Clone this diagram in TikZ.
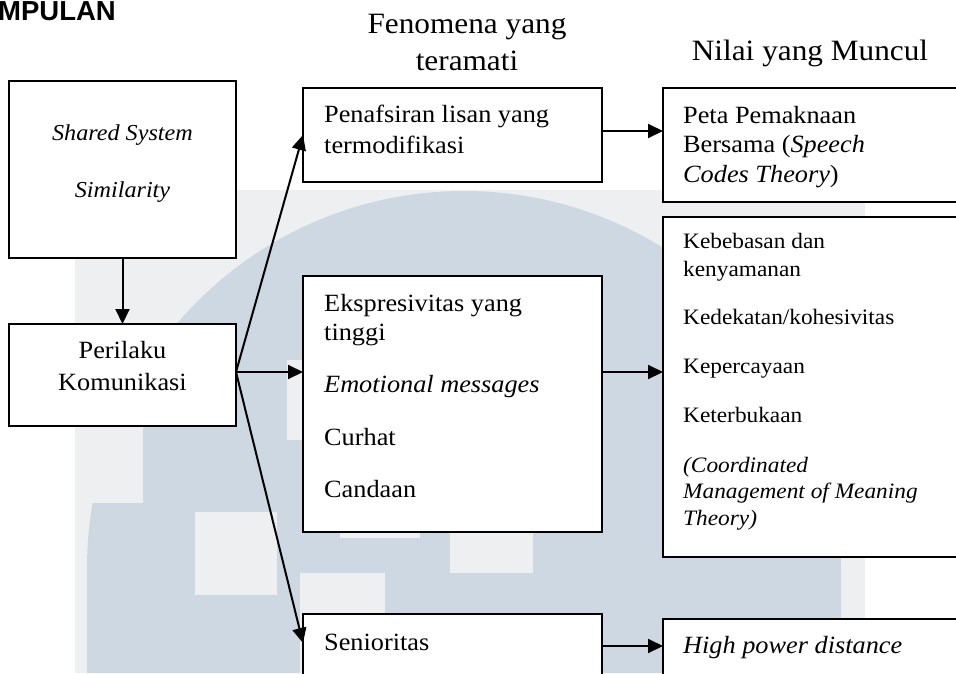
\documentclass[tikz,border=0pt]{standalone}
\usepackage{fontspec}
\setmainfont{Liberation Serif}[FakeStretch=1.06]
\setsansfont{Liberation Sans}
\usetikzlibrary{arrows.meta}
\definecolor{wmbiru}{RGB}{205,216,226}
\definecolor{wmabu}{RGB}{238,239,241}

\begin{document}
\begin{tikzpicture}[x=1pt, y=-1pt,
    kotak/.style={draw, fill=white, line width=2pt, inner sep=0pt, outer sep=0pt, anchor=north west},
    panah/.style={-{Triangle[length=15pt,width=14pt]}, line width=2pt},
    judul/.style={inner sep=0pt, font=\fontsize{29.5}{36.5}\selectfont},
    isi/.style={anchor=base west, inner sep=0pt, align=left, font=\fontsize{24.8}{30.5}\selectfont},
    kecil/.style={anchor=base west, inner sep=0pt, align=left, font=\fontsize{22}{28}\selectfont}]
  \useasboundingbox (0,0) rectangle (956,673);
  \clip (0,0) rectangle (956,673);

  % watermark
  \fill[wmabu] (75,190) rectangle (865,673);
  \fill[wmbiru] (87,673) -- (87,568) arc[start angle=180, end angle=360, radius=377] -- (841,673) -- cycle;
  \fill[wmabu] (75,380) rectangle (143,503);
  \fill[wmabu] (195,512) rectangle (277,595);
  \fill[wmabu] (300,573) rectangle (385,673);
  \fill[wmabu] (287,360) rectangle (330,440);
  \fill[wmabu] (340,520) rectangle (420,538);
  \fill[wmabu] (450,533) rectangle (533,573);

  \node[anchor=base west, inner sep=0pt, font=\sffamily\bfseries\fontsize{27.5}{28}\selectfont] (bab) at (-2,20) {MPULAN};

  % judul kolom
  \node[judul, anchor=base] (fenomena) at (467,33) {Fenomena yang};
  \node[judul, anchor=base] (teramati) at (467,70) {teramati};
  \node[judul, anchor=base] (nilai) at (810,60) {Nilai yang Muncul};

  % kotak
  \node[kotak, minimum width=227pt, minimum height=177pt] (ss) at (9,81) {};
  \node[kotak, minimum width=227pt, minimum height=102pt] (pk) at (9,324) {};
  \node[kotak, minimum width=299pt, minimum height=94pt] (pn) at (303,88) {};
  \node[kotak, minimum width=299pt, minimum height=256pt] (ek) at (303,276) {};
  \node[kotak, minimum width=299pt, minimum height=100pt] (sn) at (303,614) {};
  \node[kotak, minimum width=340pt, minimum height=114pt] (pt) at (663,88) {};
  \node[kotak, minimum width=340pt, minimum height=340pt] (nl) at (663,217) {};
  \node[kotak, minimum width=340pt, minimum height=100pt] (hp) at (663,619) {};

  % teks (baris terakhir di koordinat)
  \node[isi, anchor=base, font=\itshape\fontsize{22.8}{27}\selectfont] (ss1) at (122.5,140) {Shared System};
  \node[isi, anchor=base, font=\itshape\fontsize{22.8}{27}\selectfont] (ss2) at (122.5,197) {Similarity};
  \node[isi, anchor=base, align=center, font=\fontsize{24.8}{32}\selectfont] (pk1) at (122.5,390) {Perilaku\\Komunikasi};
  \node[isi, font=\fontsize{24.8}{31}\selectfont] (pn1) at (324,153) {Penafsiran lisan yang\\termodifikasi};
  \node[isi, font=\fontsize{24.8}{29}\selectfont] (ek1) at (324,340) {Ekspresivitas yang\\tinggi};
  \node[isi] (ek2) at (324,392) {\textit{Emotional messages}};
  \node[isi] (ek3) at (324,445) {Curhat};
  \node[isi] (ek4) at (324,497) {Candaan};
  \node[isi] (sn1) at (324,650) {Senioritas};
  \node[isi, font=\fontsize{24.8}{29.5}\selectfont] (pt1) at (683,182) {Peta Pemaknaan\\Bersama (\textit{Speech}\\\textit{Codes Theory})};
  \node[kecil] (nl1) at (683,276) {Kebebasan dan\\kenyamanan};
  \node[kecil] (nl2) at (683,324) {Kedekatan/kohesivitas};
  \node[kecil] (nl3) at (683,373) {Kepercayaan};
  \node[kecil] (nl4) at (683,422) {Keterbukaan};
  \node[kecil, font=\itshape\fontsize{22}{26.5}\selectfont] (nl5) at (683,525) {(Coordinated\\Management of Meaning\\Theory)};
  \node[isi] (hp1) at (683,653) {\textit{High power distance}};

  % panah
  \coordinate (tengah) at ([yshift=3pt]pk.east);
  \coordinate (sen) at ([yshift=-32pt]sn.north east);
  \draw[panah] (ss.south) -- (pk.north);
  \draw[panah] (tengah) -- (pn.west);
  \draw[panah] (tengah) -- (tengah -| ek.west);
  \draw[panah] (tengah) -- ([yshift=-29pt]sn.north west);
  \draw[panah] ([yshift=4pt]pn.east) -- ([yshift=4pt]pn.east -| pt.west);
  \draw[panah] (tengah -| ek.east) -- (tengah -| nl.west);
  \draw[panah] (sen) -- (sen -| hp.west);
\end{tikzpicture}
\end{document}
